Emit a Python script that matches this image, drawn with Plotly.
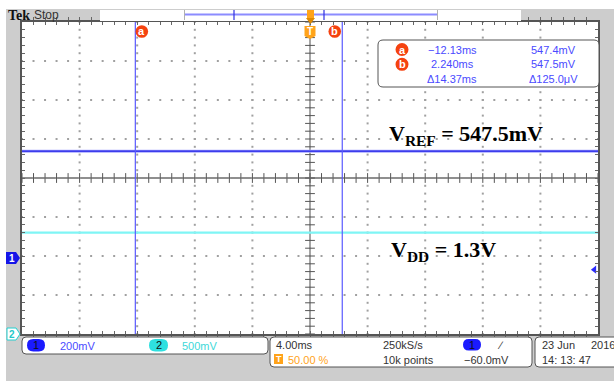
import plotly.graph_objects as go

W, H = 614, 381

# ---- acquisition settings ----
time_per_div = 4.0          # ms/div, 10 divisions
ch1_volts_per_div = 0.2     # V/div
ch2_volts_per_div = 0.5     # V/div
ch1_ground_div = -2.05      # ch1 ground marker position (divisions)
ch2_ground_div = -4.0       # ch2 ground marker position (divisions)

# ---- waveforms ----
ch1_time_ms = [-20.0, -13.4, -12.8, -12.3, -11.8, 1.4, 1.9, 2.4, 20.0]
ch1_volts = [0.5475, 0.5475, 0.5445, 0.5455, 0.5475, 0.5475, 0.5455, 0.5475, 0.5475]
ch2_time_ms = [-20.0, 20.0]
ch2_volts = [1.3, 1.3]

# ---- cursors / trigger ----
cursor_a_ms = -12.13
cursor_b_ms = 2.240
trigger_level_v = -0.060
readout_rows = [
    ("a", "\u221212.13ms", "547.4mV"),
    ("b", "2.240ms", "547.5mV"),
    ("", "\u039414.37ms", "\u0394125.0\u03bcV"),
]

# ---- labels ----
vref_label = "V<sub>REF</sub> = 547.5mV"
vdd_label = "V<sub>DD</sub> = 1.3V"


def X(p):
    return p / W


def Y(p):
    return 1 - p / H


def rounded(x0, y0, x1, y1, r):
    pts = [
        f"M{X(x0 + r)},{Y(y0)}", f"L{X(x1 - r)},{Y(y0)}", f"Q{X(x1)},{Y(y0)} {X(x1)},{Y(y0 + r)}",
        f"L{X(x1)},{Y(y1 - r)}", f"Q{X(x1)},{Y(y1)} {X(x1 - r)},{Y(y1)}",
        f"L{X(x0 + r)},{Y(y1)}", f"Q{X(x0)},{Y(y1)} {X(x0)},{Y(y1 - r)}",
        f"L{X(x0)},{Y(y0 + r)}", f"Q{X(x0)},{Y(y0)} {X(x0 + r)},{Y(y0)}", "Z",
    ]
    return " ".join(pts)


x_half = 5 * time_per_div
minor_x = [-x_half + i * time_per_div / 5 for i in range(51)]
minor_y = [-4 + i * 0.2 for i in range(41)]
major_x = [-x_half + k * time_per_div for k in range(1, 10)]
major_y = [-4 + k for k in range(1, 8)]

fig = go.Figure()

# dotted graticule
gx, gy = [], []
for mx in major_x:
    for my in minor_y:
        gx.append(mx)
        gy.append(my)
for my in major_y:
    for mx in minor_x:
        gx.append(mx)
        gy.append(my)
fig.add_trace(go.Scatter(x=gx, y=gy, mode="markers", yaxis="y",
                         marker=dict(size=2, color="#a0a0a0", symbol="square"),
                         hoverinfo="skip", showlegend=False))

# centre crosshair tick marks
fig.add_trace(go.Scatter(x=minor_x, y=[0] * len(minor_x), mode="markers", yaxis="y",
                         marker=dict(size=7, symbol="line-ns-open", color="#555",
                                     line=dict(color="#555", width=1)),
                         hoverinfo="skip", showlegend=False))
fig.add_trace(go.Scatter(x=[0] * len(minor_y), y=minor_y, mode="markers", yaxis="y",
                         marker=dict(size=7, symbol="line-ew-open", color="#555",
                                     line=dict(color="#555", width=1)),
                         hoverinfo="skip", showlegend=False))

# channel 2 (VDD)
fig.add_trace(go.Scatter(x=ch2_time_ms, y=ch2_volts, mode="lines", yaxis="y3",
                         line=dict(color="#7ff5f5", width=2.2), hoverinfo="skip", showlegend=False))
# channel 1 (VREF)
fig.add_trace(go.Scatter(x=ch1_time_ms, y=ch1_volts, mode="lines", yaxis="y2",
                         line=dict(color="#a8a8ff", width=3), hoverinfo="skip", showlegend=False))
fig.add_trace(go.Scatter(x=ch1_time_ms, y=ch1_volts, mode="lines", yaxis="y2",
                         line=dict(color="#1a1ae6", width=1.2), hoverinfo="skip", showlegend=False))

# trigger level arrow on the right edge
fig.add_trace(go.Scatter(x=[x_half - 0.25], y=[trigger_level_v], mode="markers", yaxis="y2",
                         marker=dict(size=7, symbol="triangle-left", color="#2a2aff"),
                         cliponaxis=False, hoverinfo="skip", showlegend=False))

shapes = []
annots = []

# background panels
shapes.append(dict(type="rect", xref="paper", yref="paper", x0=0, x1=1, y0=Y(9), y1=1,
                   fillcolor="white", line_width=0, layer="below"))
shapes.append(dict(type="rect", xref="paper", yref="paper", x0=0, x1=X(6), y0=0, y1=1,
                   fillcolor="white", line_width=0, layer="below"))

# centre crosshair lines
shapes.append(dict(type="line", xref="x", yref="y", x0=-x_half, x1=x_half, y0=0, y1=0,
                   line=dict(color="#6a6a6a", width=1.5), layer="below"))
shapes.append(dict(type="line", xref="x", yref="y", x0=0, x1=0, y0=-4, y1=4,
                   line=dict(color="#6a6a6a", width=1.2), layer="below"))

# cursors
for cx in (cursor_a_ms, cursor_b_ms):
    shapes.append(dict(type="line", xref="x", yref="y", x0=cx, x1=cx, y0=-4, y1=4,
                       line=dict(color="#5a5aff", width=1.2), layer="above"))

ms_per_px = time_per_div / 57.6
div_per_px = 1 / 39.0
r_ms, r_div = 6.3 * ms_per_px, 6.3 * div_per_px
for name, cx in (("a", cursor_a_ms + 6.5 * ms_per_px), ("b", cursor_b_ms - 7.5 * ms_per_px)):
    cy = 4 - 9.5 * div_per_px
    shapes.append(dict(type="circle", xref="x", yref="y", x0=cx - r_ms, x1=cx + r_ms,
                       y0=cy - r_div, y1=cy + r_div, fillcolor="#f5420f", line_width=0, layer="above"))
    annots.append(dict(x=cx, y=cy, xref="x", yref="y", text=f"<b>{name}</b>",
                       font=dict(family="Liberation Sans", size=11, color="white")))

# trigger position marker inside graticule
shapes.append(dict(type="path", xref="x", yref="y", fillcolor="#ffa31a", line_width=0, layer="above",
                   path=(f"M{-5.5 * ms_per_px},{4 - 4 * div_per_px} L{5.5 * ms_per_px},{4 - 4 * div_per_px} "
                         f"L{5.5 * ms_per_px},{4 - 14 * div_per_px} L0,{4 - 17 * div_per_px} "
                         f"L{-5.5 * ms_per_px},{4 - 14 * div_per_px} Z")))
annots.append(dict(x=0, y=4 - 9.5 * div_per_px, xref="x", yref="y", text="<b>T</b>",
                   font=dict(family="Liberation Sans", size=10, color="white")))

# top status bar
shapes.append(dict(type="rect", xref="paper", yref="paper", x0=X(100), x1=X(184), y0=Y(21), y1=Y(10),
                   fillcolor="white", line_width=0, layer="above"))
shapes.append(dict(type="rect", xref="paper", yref="paper", x0=X(184), x1=X(521), y0=Y(21), y1=Y(10),
                   fillcolor="white", line_width=0, layer="above"))
shapes.append(dict(type="line", xref="paper", yref="paper", x0=X(185), x1=X(437), y0=Y(14.5), y1=Y(14.5),
                   line=dict(color="#8c8cff", width=2), layer="above"))
for bx in (184.5, 437.5):
    shapes.append(dict(type="line", xref="paper", yref="paper", x0=X(bx), x1=X(bx), y0=Y(20), y1=Y(10),
                       line=dict(color="#b0b0b0", width=1), layer="above"))
for bx in (234, 324):
    shapes.append(dict(type="line", xref="paper", yref="paper", x0=X(bx), x1=X(bx), y0=Y(20), y1=Y(10),
                       line=dict(color="#3030e0", width=1.2), layer="above"))
shapes.append(dict(type="rect", xref="paper", yref="paper", x0=X(307), x1=X(314), y0=Y(18), y1=Y(10),
                   fillcolor="#ffa31a", line_width=0, layer="above"))
shapes.append(dict(type="path", xref="paper", yref="paper", layer="above", fillcolor="#e08a00", line_width=0,
                   path=f"M{X(306)},{Y(18)} L{X(315)},{Y(18)} L{X(310.5)},{Y(24)} Z"))
annots.append(dict(x=X(6), y=Y(15.5), xref="paper", yref="paper", xanchor="left",
                   text="<b>Tek</b>", font=dict(family="Liberation Serif", size=14, color="#111")))
annots.append(dict(x=X(32), y=Y(15.5), xref="paper", yref="paper", xanchor="left",
                   text="Stop", font=dict(family="Liberation Sans", size=12, color="#333")))

# cursor readout box
shapes.append(dict(type="path", xref="paper", yref="paper", layer="above", fillcolor="white",
                   line=dict(color="#555", width=1), path=rounded(378, 40, 599, 87, 5)))
for i, (name, tval, vval) in enumerate(readout_rows):
    yy = 49.5 + i * 14.8
    if name:
        shapes.append(dict(type="circle", xref="paper", yref="paper", layer="above",
                           x0=X(395.5), x1=X(408.5), y0=Y(yy + 6.5), y1=Y(yy - 6.5),
                           fillcolor="#f5420f", line_width=0))
        annots.append(dict(x=X(402), y=Y(yy), xref="paper", yref="paper", text=f"<b>{name}</b>",
                           font=dict(family="Liberation Sans", size=11, color="white")))
    annots.append(dict(x=X(452), y=Y(yy), xref="paper", yref="paper", text=tval,
                       font=dict(family="Liberation Sans", size=11, color="#4a4aff")))
    annots.append(dict(x=X(553), y=Y(yy), xref="paper", yref="paper", text=vval,
                       font=dict(family="Liberation Sans", size=11, color="#4a4aff")))

# channel ground markers on the left
shapes.append(dict(type="path", xref="paper", yref="paper", layer="above", fillcolor="#1515e8",
                   line_width=0, path=f"M{X(6)},{Y(252)} L{X(16)},{Y(252)} L{X(20)},{Y(258)} "
                                      f"L{X(16)},{Y(264)} L{X(6)},{Y(264)} Z"))
annots.append(dict(x=X(11.5), y=Y(258), xref="paper", yref="paper", text="<b>1</b>",
                   font=dict(family="Liberation Sans", size=10, color="white")))
shapes.append(dict(type="path", xref="paper", yref="paper", layer="above", fillcolor="white",
                   line=dict(color="#22d0d0", width=1),
                   path=f"M{X(7)},{Y(328)} L{X(16)},{Y(328)} L{X(20)},{Y(334)} "
                        f"L{X(16)},{Y(340)} L{X(7)},{Y(340)} Z"))
annots.append(dict(x=X(12), y=Y(334), xref="paper", yref="paper", text="<b>2</b>",
                   font=dict(family="Liberation Sans", size=10, color="#22c8c8")))

# bottom status boxes
for bx0, by0, bx1, by1 in ((22, 337, 268, 354), (270, 337, 532, 367), (535, 337, 620, 367)):
    shapes.append(dict(type="path", xref="paper", yref="paper", layer="above", fillcolor="white",
                       line=dict(color="#555", width=1), path=rounded(bx0, by0, bx1, by1, 4)))


def pill(x0, x1, y0, y1, color, label):
    shapes.append(dict(type="path", xref="paper", yref="paper", layer="above", fillcolor=color,
                       line_width=0, path=rounded(x0, y0, x1, y1, (y1 - y0) / 2)))
    annots.append(dict(x=X((x0 + x1) / 2), y=Y((y0 + y1) / 2), xref="paper", yref="paper",
                       text=label, font=dict(family="Liberation Sans", size=11, color="#111")))


def txt(x, y, s, color="#333", anchor="left", size=11):
    annots.append(dict(x=X(x), y=Y(y), xref="paper", yref="paper", xanchor=anchor,
                       text=s, font=dict(family="Liberation Sans", size=size, color=color)))


pill(27, 45, 339, 351.5, "#1a1aff", "1")
txt(58, 345.5, "200mV", "#4a4aff")
pill(149, 168, 339, 351.5, "#2ee0e0", "2")
txt(180, 345.5, "500mV", "#3ed8d8")

txt(274, 344.5, "4.00ms")
shapes.append(dict(type="rect", xref="paper", yref="paper", x0=X(274), x1=X(283), y0=Y(364), y1=Y(354),
                   fillcolor="#ffa31a", line_width=0, layer="above"))
annots.append(dict(x=X(278.5), y=Y(359), xref="paper", yref="paper", text="<b>T</b>",
                   font=dict(family="Liberation Sans", size=9, color="white")))
txt(286, 359.5, "50.00 %", "#ffa31a")
txt(381, 344.5, "250kS/s")
txt(381, 359.5, "10k points")
pill(463, 481, 339, 350.5, "#1a1aff", "1")
txt(495, 344.5, "\u2215")
txt(462, 359.5, "\u221260.0mV")
txt(540, 344.5, "23 Jun")
txt(589, 344.5, "2016")
txt(540, 359.5, "14: 13: 47")

# signal labels
annots.append(dict(x=X(387), y=Y(135), xref="paper", yref="paper", xanchor="left",
                   text=f"<b>{vref_label}</b>",
                   font=dict(family="Liberation Serif", size=22, color="black")))
annots.append(dict(x=X(389), y=Y(251), xref="paper", yref="paper", xanchor="left",
                   text=f"<b>{vdd_label}</b>",
                   font=dict(family="Liberation Serif", size=22, color="black")))

for a in annots:
    a.setdefault("xanchor", "center")
    a.setdefault("yanchor", "middle")
    a.setdefault("showarrow", False)

frame = dict(showgrid=False, zeroline=False, showline=True, linecolor="#555", linewidth=2,
             mirror="allticks", ticks="inside", ticklen=3, tickcolor="#666", tickwidth=1,
             showticklabels=False, fixedrange=True)

fig.update_layout(
    width=W, height=H, margin=dict(l=0, r=0, t=0, b=0),
    paper_bgcolor="#cdcdcd", plot_bgcolor="white", showlegend=False,
    xaxis=dict(domain=[22 / W, 598 / W], range=[-x_half, x_half], tick0=-x_half,
               dtick=time_per_div / 5, **frame),
    yaxis=dict(domain=[1 - 334 / H, 1 - 22 / H], range=[-4, 4], tick0=-4, dtick=0.2, **frame),
    yaxis2=dict(overlaying="y", visible=False, fixedrange=True,
                range=[(-4 - ch1_ground_div) * ch1_volts_per_div, (4 - ch1_ground_div) * ch1_volts_per_div]),
    yaxis3=dict(overlaying="y", visible=False, fixedrange=True,
                range=[(-4 - ch2_ground_div) * ch2_volts_per_div, (4 - ch2_ground_div) * ch2_volts_per_div]),
    shapes=shapes, annotations=annots,
)

fig.write_html("out.html")
